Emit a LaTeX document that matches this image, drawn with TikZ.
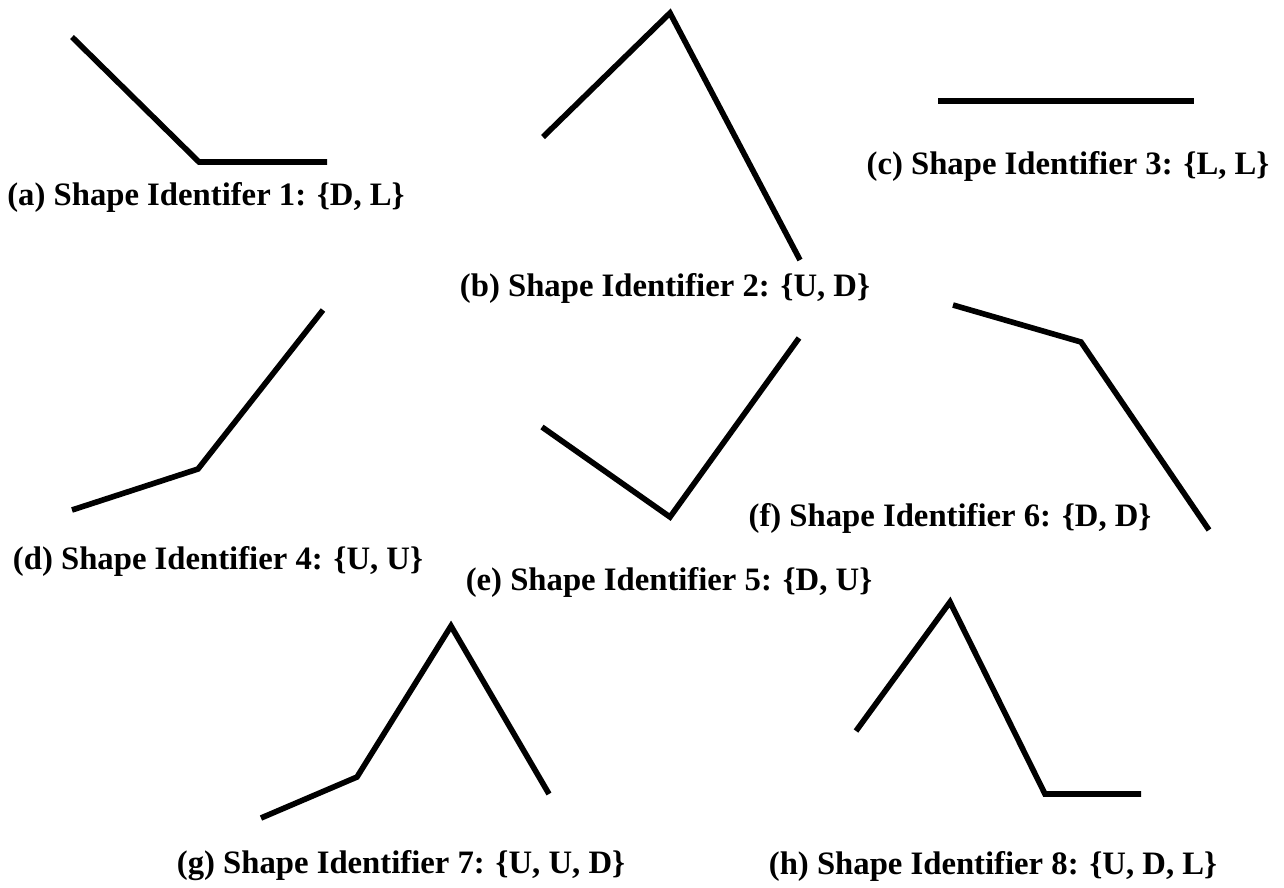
\documentclass[tikz,border=0pt]{standalone}
\usepackage{fontspec}
\setmainfont{Liberation Serif}
\begin{document}
\begin{tikzpicture}[x=0.01cm,y=-0.01cm,
  shapeline/.style={line width=1.6pt,line join=miter,line cap=butt},
  caption/.style={font=\fontsize{9.3}{11}\selectfont\bfseries,inner sep=0pt,anchor=center}]
\useasboundingbox (0,0) rectangle (1284,887);
% (a)
\draw[shapeline] (72,37) -- (199,162) -- (327,162);
\node[caption] (la) at (206,197) {(a) Shape Identifer 1: \{D, L\}};
% (b)
\draw[shapeline] (543,137) -- (670,13) -- (800,260);
\node[caption] (lb) at (665,288) {(b) Shape Identifier 2: \{U, D\}};
% (c)
\draw[shapeline] (938,101) -- (1194,101);
\node[caption] (lc) at (1068,166) {(c) Shape Identifier 3: \{L, L\}};
% (d)
\draw[shapeline] (72,510) -- (198,469) -- (323,310);
\node[caption] (ld) at (218,561) {(d) Shape Identifier 4: \{U, U\}};
% (e)
\draw[shapeline] (542,427) -- (670,517) -- (799,338);
\node[caption] (le) at (669,582) {(e) Shape Identifier 5: \{D, U\}};
% (f)
\draw[shapeline] (953,305) -- (1081,342) -- (1209,530);
\node[caption] (lf) at (950,518) {(f) Shape Identifier 6: \{D, D\}};
% (g)
\draw[shapeline] (261,818) -- (357,777) -- (451,626) -- (549,794);
\node[caption] (lg) at (401,866) {(g) Shape Identifier 7: \{U, U, D\}};
% (h)
\draw[shapeline] (856,731) -- (950,602) -- (1045,794) -- (1141,794);
\node[caption] (lh) at (993,866) {(h) Shape Identifier 8: \{U, D, L\}};
\end{tikzpicture}
\end{document}
